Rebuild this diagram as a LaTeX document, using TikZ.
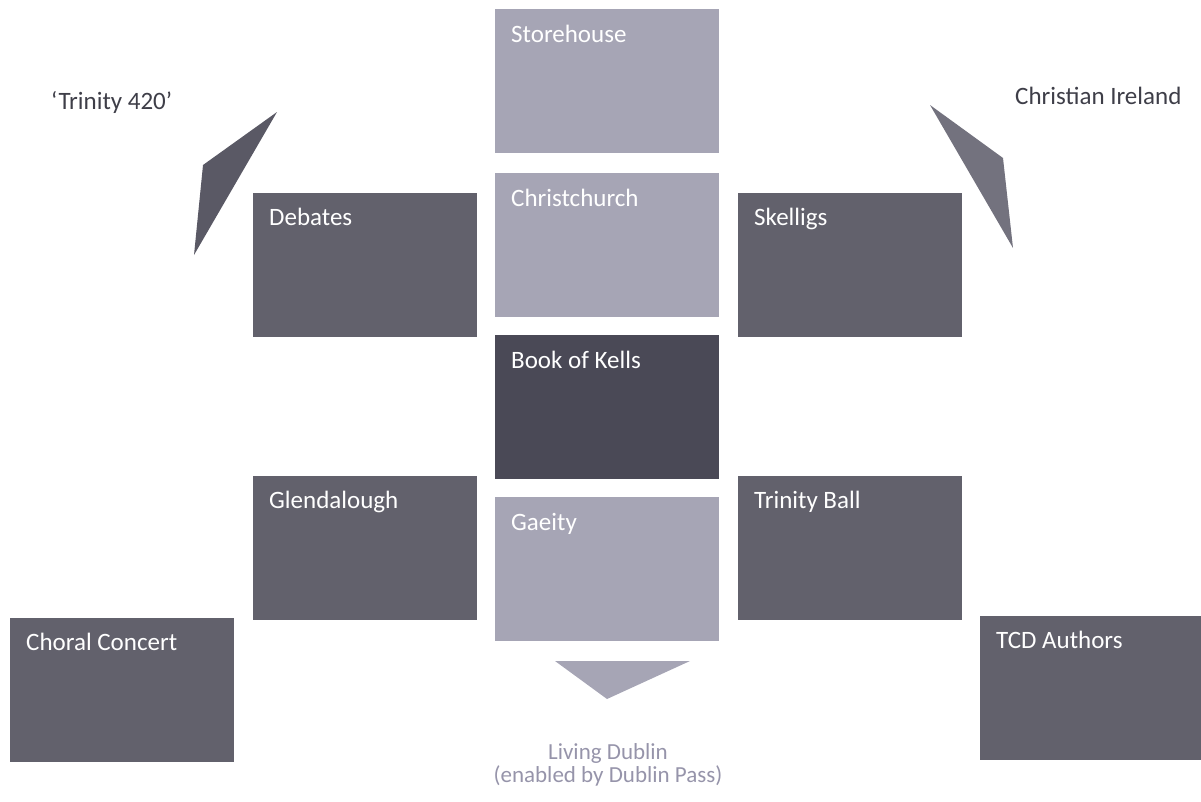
\documentclass[tikz,border=0pt]{standalone}
\usepackage{fontspec}
\setmainfont{Carlito}

\definecolor{lightbox}{RGB}{166,165,181}
\definecolor{darkbox}{RGB}{98,97,108}
\definecolor{kellsbox}{RGB}{74,73,86}
\definecolor{outertext}{RGB}{62,62,72}
\definecolor{dublintext}{RGB}{150,148,170}

\begin{document}
\begin{tikzpicture}[x=1pt,y=-1pt]

      \useasboundingbox (0,0) rectangle (1201,801);

      \begin{scope}[every node/.style={rectangle, anchor=north west, inner sep=0pt,
          minimum width=224pt, minimum height=144pt}]
        \node[fill=lightbox] (store)    at (495,9)   {};
        \node[fill=lightbox] (church)   at (495,173) {};
        \node[fill=kellsbox] (kells)    at (495,335) {};
        \node[fill=lightbox] (gaeity)   at (495,497) {};
        \node[fill=darkbox]  (debates)  at (253,193) {};
        \node[fill=darkbox]  (skelligs) at (738,193) {};
        \node[fill=darkbox]  (glen)     at (253,476) {};
        \node[fill=darkbox]  (ball)     at (738,476) {};
        \node[fill=darkbox]  (choral)   at (10,618)  {};
        \node[fill=darkbox]  (authors)  at (980,616) {};
      \end{scope}

      \begin{scope}[every node/.style={anchor=base west, inner sep=0pt, text=white,
          font=\fontsize{25}{28}\selectfont}]
        \node (store-t)    at ([shift={(16,33)}]store.north west)    {Storehouse};
        \node (church-t)   at ([shift={(16,33)}]church.north west)   {Christchurch};
        \node (kells-t)    at ([shift={(16,33)}]kells.north west)    {Book of Kells};
        \node (gaeity-t)   at ([shift={(16,33)}]gaeity.north west)   {Gaeity};
        \node (debates-t)  at ([shift={(16,32)}]debates.north west)  {Debates};
        \node (skelligs-t) at ([shift={(16,32)}]skelligs.north west) {Skelligs};
        \node (glen-t)     at ([shift={(16,32)}]glen.north west)     {Glendalough};
        \node (ball-t)     at ([shift={(16,32)}]ball.north west)     {Trinity Ball};
        \node (choral-t)   at ([shift={(16,32)}]choral.north west)   {Choral Concert};
        \node (authors-t)  at ([shift={(16,32)}]authors.north west)  {TCD Authors};
      \end{scope}

      % pointers
      \fill[darkbox!105] (277,112) -- (203,165) -- (194,255) -- cycle;
      \fill[darkbox!75!lightbox] (930,105) -- (1003,158) -- (1013,248) -- cycle;
      \fill[lightbox] (555,661) -- (690,661) -- (607,699) -- cycle;

      \begin{scope}[every node/.style={inner sep=0pt, font=\fontsize{25}{28}\selectfont}]
        \node[anchor=base west, text=outertext] (trinity) at (51,109) {`Trinity 420'};
        \node[anchor=base west, text=outertext] (ireland) at (1015,104) {Christian Ireland};
        \node[anchor=base, text=dublintext, align=center,
          font=\fontsize{23}{23}\selectfont] (dublin) at (608,782)
          {Living Dublin\\(enabled by Dublin Pass)};
      \end{scope}

    \end{tikzpicture}
\end{document}
